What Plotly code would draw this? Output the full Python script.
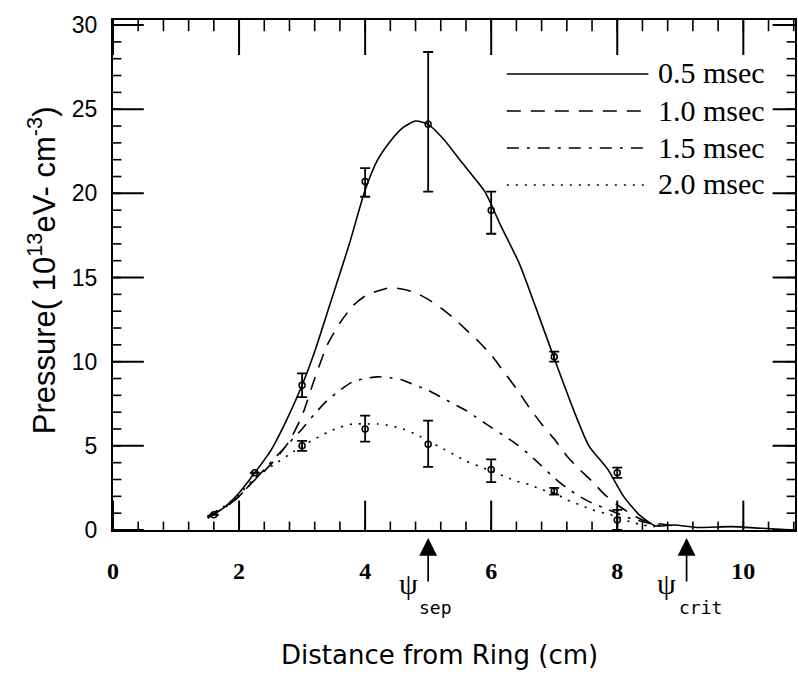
import numpy as np
import plotly.graph_objects as go

# ---------------- data ----------------
series_names = ["0.5 msec", "1.0 msec", "1.5 msec", "2.0 msec"]

sol_x = [1.5, 1.75, 2.0, 2.25, 2.5, 2.75, 3.0, 3.2, 3.45, 3.75, 4.0, 4.2, 4.4, 4.6, 4.8, 5.0,
         5.25, 5.5, 5.65, 5.9, 6.15, 6.45, 6.7, 7.0, 7.3, 7.55, 7.85, 8.1, 8.35, 8.6, 8.9, 9.3,
         9.8, 10.3, 10.8]
sol_y = [0.7, 1.3, 2.2, 3.4, 4.7, 6.5, 8.6, 10.6, 13.5, 17.0, 20.2, 22.0, 23.1, 23.9, 24.3, 24.1,
         23.2, 22.0, 21.3, 20.1, 18.1, 15.8, 13.3, 10.2, 7.2, 5.0, 3.6, 2.0, 0.9, 0.25, 0.3, 0.15,
         0.2, 0.1, 0.0]

dash_x = [1.5, 1.8, 2.0, 2.2, 2.4, 2.6, 2.8, 3.0, 3.2, 3.4, 3.6, 3.8, 4.0, 4.2, 4.4, 4.6, 4.8,
          5.0, 5.2, 5.4, 5.6, 5.8, 6.0, 6.2, 6.4, 6.6, 6.8, 7.0, 7.2, 7.4, 7.6, 7.8, 8.0, 8.2,
          8.4, 8.6, 8.8, 9.0]
dash_y = [0.8, 1.4, 2.0, 2.8, 3.5, 4.3, 5.3, 6.8, 9.0, 11.0, 12.3, 13.3, 13.9, 14.2, 14.4, 14.3,
          14.1, 13.7, 13.2, 12.6, 11.9, 11.2, 10.4, 9.4, 8.4, 7.3, 6.3, 5.4, 4.4, 3.6, 2.9, 2.1,
          1.5, 1.0, 0.6, 0.4, 0.3, 0.2]

dd_x = [1.5, 1.8, 2.0, 2.2, 2.4, 2.6, 2.8, 3.0, 3.2, 3.4, 3.6, 3.8, 4.0, 4.2, 4.4, 4.6, 4.8, 5.0,
        5.2, 5.4, 5.6, 5.8, 6.0, 6.2, 6.4, 6.6, 6.8, 7.0, 7.2, 7.4, 7.6, 7.8, 8.0, 8.2, 8.4, 8.6,
        8.8]
dd_y = [0.8, 1.4, 2.0, 2.8, 3.6, 4.4, 5.2, 6.0, 6.9, 7.7, 8.3, 8.8, 9.0, 9.1, 9.05, 8.9, 8.6,
        8.3, 7.9, 7.5, 7.1, 6.6, 6.1, 5.6, 5.1, 4.5, 3.8, 3.1, 2.5, 2.0, 1.6, 1.3, 1.0, 0.7, 0.5,
        0.3, 0.2]

dot_x = [1.5, 1.8, 2.0, 2.2, 2.4, 2.6, 2.8, 3.0, 3.2, 3.4, 3.6, 3.8, 4.0, 4.2, 4.4, 4.6, 4.8,
         5.0, 5.2, 5.4, 5.6, 5.8, 6.0, 6.2, 6.4, 6.6, 6.8, 7.0, 7.2, 7.4, 7.6, 7.8, 8.0, 8.2,
         8.4, 8.6]
dot_y = [0.8, 1.5, 2.1, 2.9, 3.5, 4.0, 4.5, 5.0, 5.4, 5.8, 6.1, 6.3, 6.3, 6.3, 6.2, 6.0, 5.7,
         5.3, 4.9, 4.5, 4.1, 3.8, 3.5, 3.2, 2.9, 2.7, 2.4, 2.2, 1.8, 1.5, 1.2, 1.0, 0.8, 0.5,
         0.3, 0.2]

# measured points with error bars
pts05_x = [1.6, 2.25, 3.0, 4.0, 5.0, 6.0, 7.0, 8.0]
pts05_y = [0.9, 3.4, 8.6, 20.7, 24.1, 19.0, 10.3, 3.4]
pts05_up = [0, 0, 0.7, 0.8, 4.3, 1.1, 0.3, 0.3]
pts05_dn = [0, 0, 0.7, 0.9, 4.0, 1.4, 0.3, 0.3]

pts20_x = [3.0, 4.0, 5.0, 6.0, 7.0, 8.0]
pts20_y = [5.0, 6.0, 5.1, 3.6, 2.3, 0.6]
pts20_up = [0.3, 0.8, 1.4, 0.6, 0.2, 0.6]
pts20_dn = [0.3, 0.75, 1.35, 0.75, 0.2, 0.6]

psi_sep = 5.0
psi_crit = 9.1

x_major, x_minor = 2, 0.4
y_major, y_minor = 5, 1
x_range = [0, 10.82]
y_range = [0, 30.3]

# ---------------- figure ----------------
dashes = ["solid", "14px,10px", "12px,8px,3px,8px", "2px,7px"]
curves = [(sol_x, sol_y), (dash_x, dash_y), (dd_x, dd_y), (dot_x, dot_y)]

fig = go.Figure()

# inside tick marks on all four edges: line markers sitting on the frame edges, clipped
# by the plot area so only the inner half shows
x_major_vals = [float(v) for v in np.arange(0, x_range[1] + 1e-9, x_major)]
x_minor_vals = [round(float(v), 3) for v in np.arange(0, x_range[1] + 1e-9, x_minor)]
y_major_vals = [float(v) for v in np.arange(0, y_range[1] + 1e-9, y_major)]
y_minor_vals = [float(v) for v in np.arange(0, y_range[1] + 1e-9, y_minor)]


def tick_trace(xs, ys, symbol, size, width):
    fig.add_trace(go.Scatter(x=xs, y=ys, mode="markers", cliponaxis=True, hoverinfo="skip",
                             showlegend=False,
                             marker=dict(symbol=symbol, size=size, color="black",
                                         line=dict(color="black", width=width))))


tick_trace(x_minor_vals, [y_range[0]] * len(x_minor_vals), "line-ns", 12, 1.6)
tick_trace(x_minor_vals, [y_range[1]] * len(x_minor_vals), "line-ns", 16, 1.6)
tick_trace(x_major_vals, [y_range[0]] * len(x_major_vals), "line-ns", 42, 2.0)
tick_trace(x_major_vals, [y_range[1]] * len(x_major_vals), "line-ns", 50, 2.0)
tick_trace([x_range[0]] * len(y_minor_vals), y_minor_vals, "line-ew", 12, 1.6)
tick_trace([x_range[1]] * len(y_minor_vals), y_minor_vals, "line-ew", 12, 1.6)
tick_trace([x_range[0]] * len(y_major_vals), y_major_vals, "line-ew", 44, 2.0)
tick_trace([x_range[1]] * len(y_major_vals), y_major_vals, "line-ew", 32, 2.0)

for (cx, cy), d, nm in zip(curves, dashes, series_names):
    fig.add_trace(go.Scatter(x=cx, y=cy, mode="lines", name=nm,
                             line=dict(color="black", width=1.6, dash=d, shape="spline", smoothing=0.6)))

for px_, py_, up, dn in [(pts05_x, pts05_y, pts05_up, pts05_dn), (pts20_x, pts20_y, pts20_up, pts20_dn)]:
    fig.add_trace(go.Scatter(x=px_, y=py_, mode="markers",
                             marker=dict(symbol="circle-open", size=6, color="black", line=dict(width=1.5)),
                             error_y=dict(type="data", symmetric=False, array=up, arrayminus=dn,
                                          color="black", thickness=1.8, width=5),
                             showlegend=False))

W, H = 798, 674
L, R, T, B = 113, 1, 20, 144
pw, ph = W - L - R, H - T - B


def pxx(p):
    return (p - L) / pw


def pxy(p):
    return (H - B - p) / ph


shapes = []
annotations = []

leg_rows = [73, 110, 147, 184]
for nm, d, yy in zip(series_names, dashes, leg_rows):
    shapes.append(dict(type="line", xref="paper", yref="paper", x0=pxx(508), x1=pxx(650),
                       y0=pxy(yy + 1), y1=pxy(yy + 1), line=dict(color="black", width=1.6, dash=d)))
    annotations.append(dict(text=nm, xref="paper", yref="paper", x=pxx(658), y=pxy(yy),
                            xanchor="left", yanchor="middle", showarrow=False,
                            font=dict(family="Liberation Serif", size=30, color="black")))

# psi arrows
for xv, sub, subshift in [(psi_sep, "sep", 7), (psi_crit, "crit", 14)]:
    annotations.append(dict(x=xv, y=pxy(538), xref="x", yref="paper", text="", showarrow=True,
                            ax=0, ay=45, arrowhead=2, arrowsize=2.1, arrowwidth=1.7,
                            arrowcolor="black", standoff=0))
    annotations.append(dict(x=xv, y=pxy(583), xref="x", yref="paper", text="ψ", xshift=-20,
                            showarrow=False, xanchor="center", yanchor="middle",
                            font=dict(family="Liberation Serif", size=30, color="black")))
    annotations.append(dict(x=xv, y=pxy(607), xref="x", yref="paper", text=sub, xshift=subshift,
                            showarrow=False, xanchor="center", yanchor="middle",
                            font=dict(family="DejaVu Sans Mono", size=18, color="black")))

annotations.append(dict(text="Pressure( 10<sup>13</sup>eV- cm<sup>-3</sup>)", xref="paper", yref="paper",
                        x=pxx(42), y=pxy(270), textangle=-90, showarrow=False,
                        xanchor="center", yanchor="middle",
                        font=dict(family="Liberation Sans", size=31, color="black")))
annotations.append(dict(text="Distance from Ring (cm)", xref="paper", yref="paper",
                        x=pxx(440), y=pxy(655), showarrow=False, xanchor="center", yanchor="middle",
                        font=dict(family="DejaVu Sans", size=26, color="black")))

# axes: frame lines and labels (invisible outside ticks push labels away from frame)
label_common = dict(showline=True, linewidth=2.2, linecolor="black", mirror=True, ticks="outside",
                    tickcolor="rgba(0,0,0,0)", showgrid=False, zeroline=False, tickmode="linear", tick0=0)

fig.update_layout(
    width=W, height=H, margin=dict(l=L, r=R, t=T, b=B),
    plot_bgcolor="white", paper_bgcolor="white", showlegend=False,
    xaxis=dict(range=x_range, dtick=x_major, ticklen=18,
               tickfont=dict(family="Liberation Serif", size=24, color="black", weight="bold"),
               **label_common),
    yaxis=dict(range=y_range, dtick=y_major, ticklen=9,
               tickfont=dict(family="Liberation Sans", size=23, color="black"),
               **label_common),
    shapes=shapes, annotations=annotations,
)

fig.write_html("out.html", config={"displayModeBar": False},
               post_script="document.body.style.margin='0';document.body.style.padding='0';")
